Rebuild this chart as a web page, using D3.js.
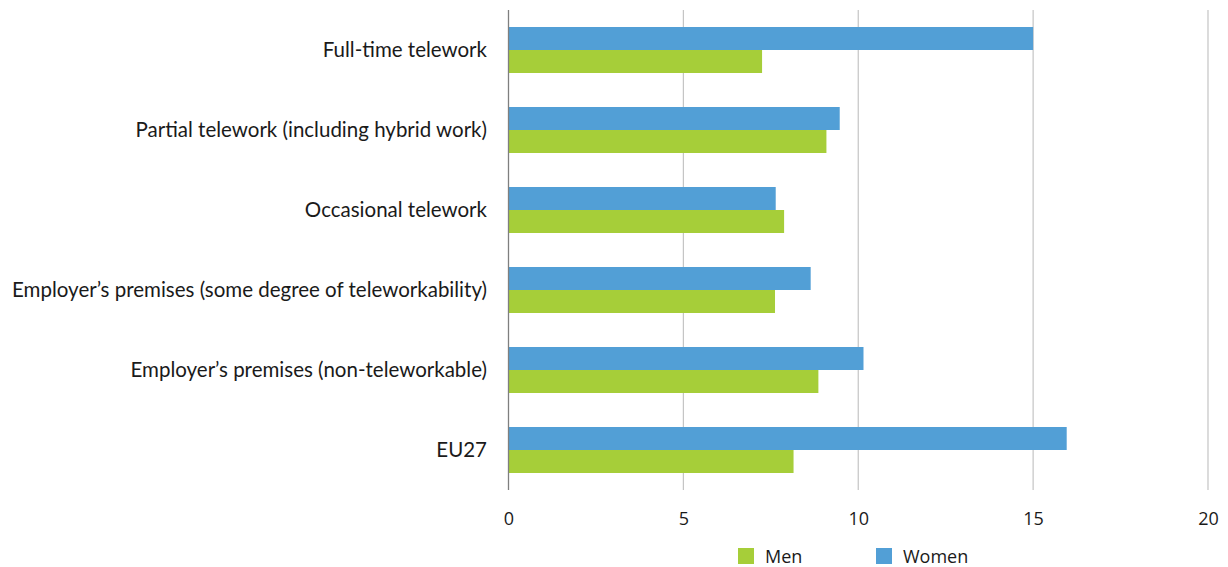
<!DOCTYPE html>
<html><head><meta charset="utf-8">
<script src="https://cdn.jsdelivr.net/npm/d3@7"></script>
<style>body{margin:0;background:#fff}</style>
</head><body>
<svg id="chart" width="1228" height="567"></svg>
<script>
const categories = ["Full-time telework","Partial telework (including hybrid work)","Occasional telework","Employer\u2019s premises (some degree of teleworkability)","Employer\u2019s premises (non-teleworkable)","EU27"];
const women = [15.0, 9.47, 7.64, 8.64, 10.15, 15.96];
const men = [7.25, 9.09, 7.88, 7.62, 8.86, 8.15];
const ticks = [0,5,10,15,20];
const seriesNames = ["Men","Women"];
const colors = {Men:"#a6ce39", Women:"#529fd6"};

const svg = d3.select("#chart");
const x = d3.scaleLinear().domain([0,20]).range([508.5,1208]);
const y = d3.scaleBand().domain(categories).range([10,490]).paddingInner(0.425).paddingOuter(0.2125);
const sub = d3.scaleBand().domain(["Women","Men"]).range([0,y.bandwidth()]);

// gridlines
svg.append("g").selectAll("line").data(ticks.slice(1)).join("line")
  .attr("x1",d=>x(d)).attr("x2",d=>x(d)).attr("y1",10).attr("y2",490)
  .attr("stroke","#c4c4c4").attr("stroke-width",1.2);

const g = svg.append("g");
categories.forEach((c,i)=>{
  g.append("rect").attr("x",x(0)).attr("y",y(c)+sub("Women")).attr("width",x(women[i])-x(0)).attr("height",sub.bandwidth()).attr("fill",colors.Women);
  g.append("rect").attr("x",x(0)).attr("y",y(c)+sub("Men")).attr("width",x(men[i])-x(0)).attr("height",sub.bandwidth()).attr("fill",colors.Men);
});

// y axis line
svg.append("line").attr("x1",x(0)).attr("x2",x(0)).attr("y1",10).attr("y2",490).attr("stroke","#7f7f7f").attr("stroke-width",1.3);

// category labels
svg.append("g").selectAll("text").data(categories).join("text")
  .attr("x",487).attr("y",d=>y(d)+y.bandwidth()/2).attr("dy","0.34em")
  .attr("text-anchor","end").attr("font-family","Lato, sans-serif").attr("font-size",20.5).attr("fill","#1a1a1a")
  .text(d=>d);

// x axis
const xAxis = d3.axisBottom(x).tickValues(ticks).tickSize(0).tickPadding(0);
const ax = svg.append("g").attr("transform","translate(0,525)").call(xAxis);
ax.select(".domain").remove();
ax.selectAll("text").attr("font-family","'Open Sans', sans-serif").attr("font-size",18).attr("fill","#1a1a1a").attr("dy",0);

// legend
const leg = svg.append("g");
const lx = [738, 876];
seriesNames.forEach((s,i)=>{
  leg.append("rect").attr("x",lx[i]).attr("y",548).attr("width",16).attr("height",16).attr("fill",colors[s]);
  leg.append("text").attr("x",lx[i]+27).attr("y",562.5).attr("font-family","'Open Sans', sans-serif").attr("font-size",18).attr("fill","#1a1a1a").text(s);
});
</script>
</body></html>
